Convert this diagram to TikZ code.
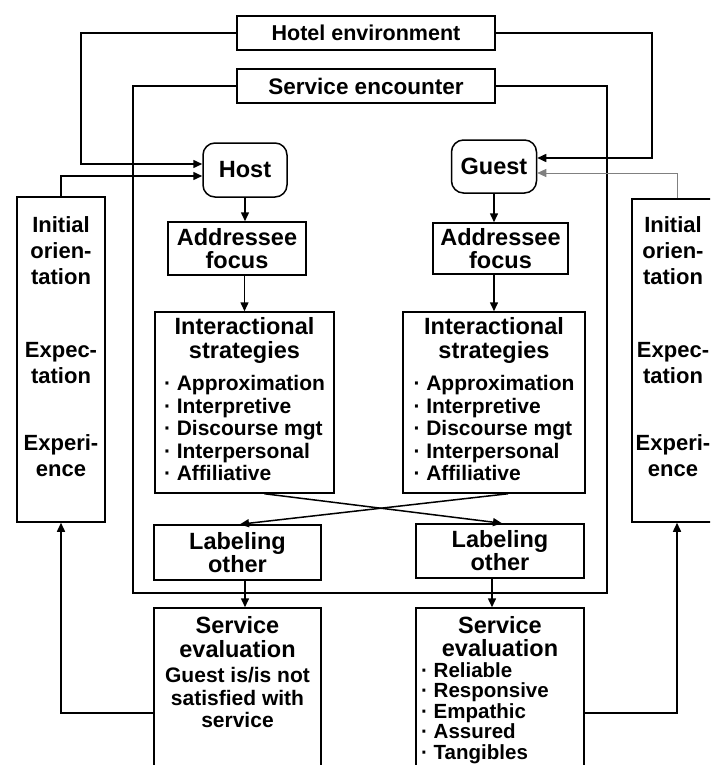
\documentclass[tikz,border=0pt]{standalone}
\usepackage{fontspec}
\setmainfont{Liberation Sans}
\usetikzlibrary{arrows.meta}

\newcommand{\ttlsize}{\fontsize{23.5}{23}\selectfont}
\newcommand{\lstsize}{\fontsize{21}{22.5}\selectfont}
\newcommand{\itm}{\textperiodcentered\ }

\begin{document}
\begin{tikzpicture}[x=1pt,y=-1pt,
    box/.style={draw, line width=1.5pt, inner sep=0pt, align=center, font=\bfseries\ttlsize},
    txt/.style={inner sep=0pt, font=\bfseries\lstsize},
    arr/.style={line width=1.5pt, -{Triangle[length=9pt,width=8pt]}},
    ln/.style={line width=1.5pt}]
\useasboundingbox (0,0) rectangle (710,765);
\clip (0,0) rectangle (710,765);

% Top boxes
\node[box, minimum width=258pt, minimum height=34pt, font=\bfseries\fontsize{21.5}{23}\selectfont] (hotel) at (366,33) {Hotel environment};
\node[box, minimum width=258pt, minimum height=34pt, font=\bfseries\fontsize{22.5}{23}\selectfont] (service) at (366,86) {Service encounter};

% Host and guest
\node[box, rounded corners=12pt, minimum width=84pt, minimum height=54pt] (host) at (245,170) {Host};
\node[box, rounded corners=12pt, minimum width=85pt, minimum height=53pt] (guest) at (494,166.5) {Guest};

% Side boxes
\node[box, minimum width=88pt, minimum height=325pt] (lside) at (61,359.5) {};
\node[box, minimum width=82pt, minimum height=323pt] (rside) at (673,360.5) {};
\node[txt, align=center, font=\bfseries\fontsize{22}{26}\selectfont] (ltxt) at (61,347)
    {Initial\\orien-\\tation\\[47pt]Expec-\\tation\\[41pt]Experi-\\ence};
\node[txt, align=center, font=\bfseries\fontsize{22}{26}\selectfont] (rtxt) at (673,347)
    {Initial\\orien-\\tation\\[47pt]Expec-\\tation\\[41pt]Experi-\\ence};

% Addressee focus
\node[box, minimum width=138pt, minimum height=53pt] (adl) at (237,248.5) {Addressee\\focus};
\node[box, minimum width=135pt, minimum height=51pt] (adr) at (500.5,248.5) {Addressee\\focus};

% Interactional strategies
\foreach \nm/\px/\bw in {isl/244.5/179, isr/494/182} {
    \node[box, minimum width=\bw pt, minimum height=181pt, font=\bfseries\lstsize] (\nm) at (\px,402.5)
    {\begin{tabular}{@{}l@{}}
        \multicolumn{1}{@{}c@{}}{\ttlsize Interactional}\\
        \multicolumn{1}{@{}c@{}}{\ttlsize strategies}\\[10pt]
        \itm Approximation\\
        \itm Interpretive\\
        \itm Discourse mgt\\
        \itm Interpersonal\\
        \itm Affiliative
    \end{tabular}};
}

% Labeling other
\node[box, minimum width=167pt, minimum height=55pt] (lol) at (237.5,552.5) {Labeling\\other};
\node[box, minimum width=168pt, minimum height=54pt] (lor) at (500,551) {Labeling\\other};

% Service evaluation
\node[box, minimum width=167pt, minimum height=180pt] (sel) at (237.5,698) {};
\node[box, minimum width=168pt, minimum height=180pt] (ser) at (500,698) {};
\node[txt, anchor=north] (seltxt) at (237.5,616)
    {\begin{tabular}{@{}c@{}}
        {\ttlsize Service}\\
        {\ttlsize evaluation}\\[3pt]
        Guest is/is not\\
        satisfied with\\
        service
    \end{tabular}};
\node[txt, anchor=north, align=center, font=\bfseries\ttlsize] (sertxt) at (500,616) {Service\\evaluation};
\node[txt, anchor=north west, align=left, font=\bfseries\fontsize{20.5}{20.5}\selectfont] (serlst) at (421,662)
    {\itm Reliable\\\itm Responsive\\\itm Empathic\\\itm Assured\\\itm Tangibles};

% Service encounter frame
\draw[ln] (service.west) -| (133,593) -| (607,86) -- (service.east);

% Environment into host and guest
\draw[arr] (hotel.west) -| (81,164) -- ([yshift=6pt]host.west);
\draw[arr] (hotel.east) -| (652,158) -- ([yshift=8.5pt]guest.east);

% Side boxes into host and guest
\draw[arr] (lside.north) |- ([yshift=-6pt]host.west);
\draw[arr, line width=0.8pt, gray] ([xshift=4pt]rside.north) |- ([yshift=-6.5pt]guest.east);

% Vertical flow
\draw[arr] (host.south) -- (host.south |- adl.north);
\draw[arr] (guest.south) -- (guest.south |- adr.north);
\draw[arr] (isl.north |- adl.south) -- (isl.north);
\draw[arr] (isr.north |- adr.south) -- (isr.north);

% Crossing arrows
\draw[arr] ([xshift=20pt]isl.south) -- ([xshift=2pt]lor.north);
\draw[arr] ([xshift=14pt]isr.south) -- ([xshift=2.5pt]lol.north);

% Labeling into evaluation
\draw[arr] ([xshift=7.5pt]lol.south) -- ([xshift=7.5pt]lol.south |- sel.north);
\draw[arr] ([xshift=-8pt]lor.south) -- ([xshift=-8pt]lor.south |- ser.north);

% Feedback to side boxes
\draw[arr] ([yshift=-15pt]sel.west) -| (lside.south);
\draw[arr] ([yshift=-15pt]ser.east) -| ([xshift=4pt]rside.south);
\end{tikzpicture}
\end{document}
